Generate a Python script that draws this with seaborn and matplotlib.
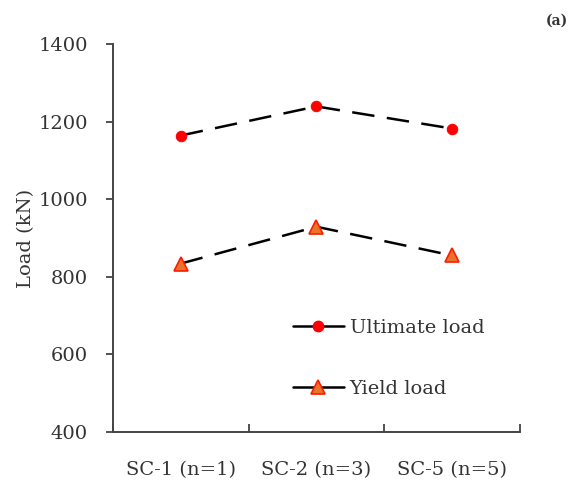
import numpy as np
import pandas as pd
import matplotlib
matplotlib.use("Agg")
import matplotlib.pyplot as plt
from matplotlib.lines import Line2D
import seaborn as sns

# data
specimens = ["SC-1 (n=1)", "SC-2 (n=3)", "SC-5 (n=5)"]
ultimate_load = [1164, 1239, 1182]
yield_load = [834, 929, 855]

df = pd.DataFrame({
    "specimen": specimens * 2,
    "load": ultimate_load + yield_load,
    "series": ["Ultimate load"] * 3 + ["Yield load"] * 3,
})

sns.set_style("ticks")
plt.rcParams["font.family"] = ["DejaVu Serif"]
plt.rcParams["text.color"] = "#333333"

fig = plt.figure(figsize=(5.75, 4.83), dpi=100)
ax = fig.add_axes([0.1965, 0.1056, 0.7075, 0.8034])

styles = {
    "Ultimate load": dict(marker="o", markersize=7.5, markerfacecolor="#ff0000", markeredgecolor="#ff0000"),
    "Yield load": dict(marker="^", markersize=10, markerfacecolor="#e8742a", markeredgecolor="#ff1a00", markeredgewidth=1.2),
}
for name, sub in df.groupby("series"):
    sns.lineplot(data=sub, x="specimen", y="load", ax=ax, color="black",
                 linewidth=1.8, dashes=False, legend=False, **styles[name])
for l in ax.get_lines():
    l.set_dashes([9, 5])

ax.set_ylim(400, 1400)
ax.set_yticks(np.arange(400, 1401, 200))
ax.set_xlim(-0.5, 2.5)
ax.set_xticks([-0.5, 0.5, 1.5, 2.5])
ax.set_xticklabels([])
ax.set_xticks([0, 1, 2], minor=True)
ax.set_xticklabels(specimens, minor=True)
ax.tick_params(axis="x", which="major", direction="in", length=6, width=1.2, color="#333333")
ax.tick_params(axis="x", which="minor", length=0, pad=21, labelsize=14, labelcolor="#333333")
ax.tick_params(axis="y", direction="out", length=5, width=1.2, pad=13, labelsize=14,
               labelcolor="#333333", color="#333333")
ax.set_xlabel("")
ax.set_ylabel("Load (kN)", fontsize=14, color="#333333", labelpad=0)
ax.yaxis.set_label_coords(-0.192, 0.5)
for s in ["left", "bottom"]:
    ax.spines[s].set_linewidth(1.4)
    ax.spines[s].set_color("#444444")
sns.despine(ax=ax)

handles = [
    Line2D([], [], color="black", linewidth=1.8, **styles["Ultimate load"]),
    Line2D([], [], color="black", linewidth=1.8, **styles["Yield load"]),
]
ax.legend(handles, ["Ultimate load", "Yield load"], loc="upper left",
          bbox_to_anchor=(0.4, 0.337), frameon=False, fontsize=14,
          handlelength=2.6, handletextpad=0.3, labelspacing=2.2)

fig.text(0.968, 0.958, "(a)", fontsize=10, fontweight="bold", ha="center", va="center")

fig.savefig("out.png", dpi=100)
